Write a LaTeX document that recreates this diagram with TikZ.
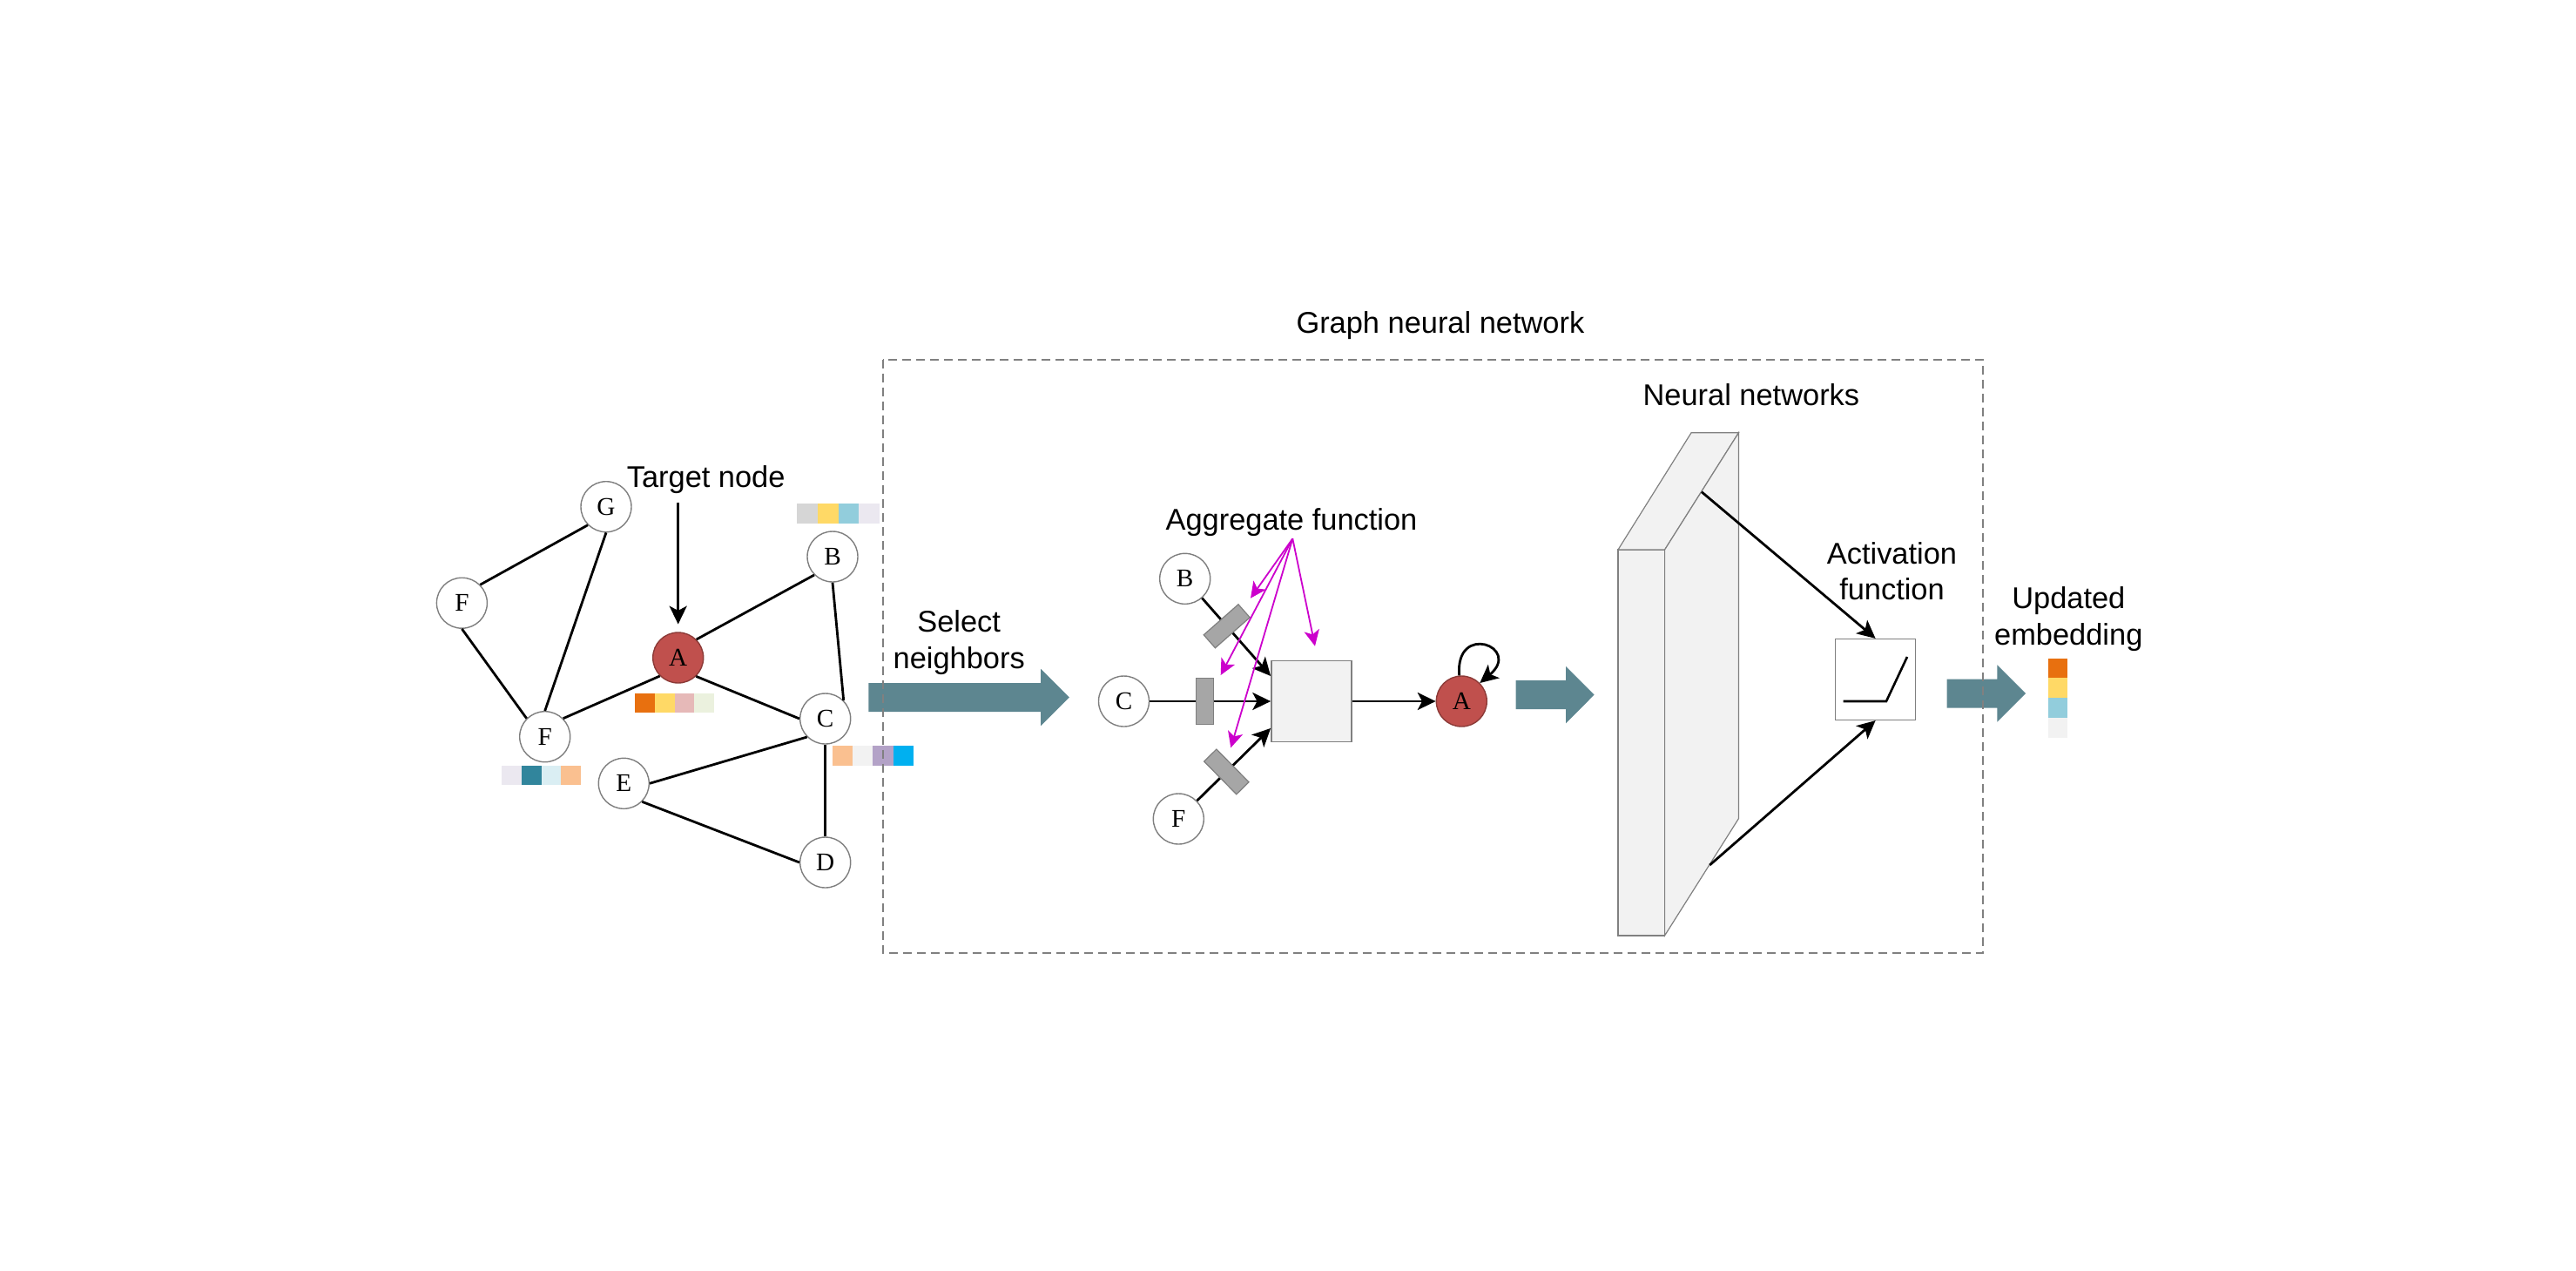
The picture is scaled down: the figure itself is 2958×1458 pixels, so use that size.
\documentclass[tikz,border=0pt]{standalone}
\usepackage{fontspec}
\setmainfont{Liberation Serif}
\setsansfont{Liberation Sans}
\usetikzlibrary{arrows.meta,calc}
\definecolor{nodeGray}{HTML}{7F7F7F}
\definecolor{nodeRed}{HTML}{C0504D}
\definecolor{nodeRedDark}{HTML}{8C3A37}
\definecolor{tealA}{HTML}{5D8690}
\definecolor{magA}{HTML}{CC00CC}
\definecolor{boxFill}{HTML}{F2F2F2}
\definecolor{boxLine}{HTML}{808080}
\definecolor{gateFill}{HTML}{A6A6A6}
\definecolor{gateLine}{HTML}{7F7F7F}
\definecolor{cOrange}{HTML}{E8700F}
\definecolor{cYellow}{HTML}{FFD966}
\definecolor{cPink}{HTML}{E6B9B8}
\definecolor{cGreenW}{HTML}{EBF1DE}
\definecolor{cGray}{HTML}{D6D6D6}
\definecolor{cLBlue}{HTML}{92CDDC}
\definecolor{cLav}{HTML}{EBE8F0}
\definecolor{cTeal}{HTML}{31859C}
\definecolor{cLCyan}{HTML}{DAEEF3}
\definecolor{cPeach}{HTML}{FAC090}
\definecolor{cLGray}{HTML}{F2F2F2}
\definecolor{cPurple}{HTML}{B3A2C7}
\definecolor{cCyan}{HTML}{00B0F0}
\newcommand{\tealarrow}[4]{\fill[tealA] (#1,#4-16.5) -- (#2,#4-16.5) -- (#2,#4-32.7) -- (#3,#4) -- (#2,#4+32.7) -- (#2,#4+16.5) -- (#1,#4+16.5) -- cycle;}
\newcommand{\cellrow}[5]{\foreach \cc [count=\ii from 0] in {#5} {\fill[\cc] (#1+\ii*#3,#2) rectangle ++(#3,#4);}}
\begin{document}
\begin{tikzpicture}[x=0.25pt,y=-0.25pt,
  gnode/.style={circle, draw=nodeGray, line width=0.35pt, fill=white, minimum size=14.5pt, inner sep=0pt, font=\fontsize{7.3}{8}\selectfont},
  rnode/.style={gnode, fill=nodeRed, draw=nodeRedDark},
  edge/.style={line width=0.7pt},
  arr/.style={line width=0.7pt, -{Stealth[length=5.2pt,width=5pt,inset=1.3pt]}},
  marr/.style={line width=0.45pt, draw=magA, -{Stealth[length=4.6pt,width=4.4pt,inset=1.2pt]}},
  lbl/.style={font=\sffamily\fontsize{8.6}{10.4}\selectfont, inner sep=0pt, align=center},
  gate/.style={rectangle, draw=gateLine, fill=gateFill, line width=0.3pt, minimum width=5pt, minimum height=13.25pt, inner sep=0pt, sloped},
  sqbox/.style={rectangle, draw=boxLine, line width=0.35pt, minimum width=23pt, minimum height=23.2pt, inner sep=0pt}
]
\useasboundingbox (0,0) rectangle (2958,1458);

% teal arrows
\tealarrow{997.3}{1195.2}{1227.9}{800.5}
\tealarrow{1740.5}{1798}{1830.6}{797.6}
\tealarrow{2235.7}{2293.3}{2326}{796}

% colour bars
\cellrow{915}{578.3}{23.75}{22.7}{cGray,cYellow,cLBlue,cLav}
\cellrow{729}{796}{22.75}{22.3}{cOrange,cYellow,cPink,cGreenW}
\cellrow{576}{879}{22.8}{21.7}{cLav,cTeal,cLCyan,cPeach}
\cellrow{956}{856}{23.2}{23}{cPeach,cLGray,cPurple,cCyan}
\foreach \cc [count=\ii from 0] in {cOrange,cYellow,cLBlue,cLGray} {\fill[\cc] (2351.7,755.7+\ii*22.75) rectangle ++(22.5,22.75);}

% input graph
\node[gnode] (G) at (696,581.7) {G};
\node[gnode] (F1) at (530.4,692.2) {F};
\node[gnode] (F2) at (625.7,845.7) {F};
\node[rnode] (A) at (778.7,755) {A};
\node[gnode] (B) at (956,639) {B};
\node[gnode] (C) at (947.7,825) {C};
\node[gnode] (E) at (716.3,899.3) {E};
\node[gnode] (D) at (947.7,990) {D};
\draw[edge] (G.225) -- (F1.45);
\draw[edge] (G.270) -- (F2.90);
\draw[edge] (F1.270) -- (F2.135);
\draw[edge] (A.45) -- (B.225);
\draw[edge] (A.225) -- (F2.45);
\draw[edge] (A.-46) -- (C.180);
\draw[edge] (B.270) -- (C.45);
\draw[edge] (C.225) -- (E.0);
\draw[edge] (C.270) -- (D.90);
\draw[edge] (E.-45) -- (D.180);

\node[lbl, anchor=base] (tTarget) at (810.7,559.6) {Target node};
\coordinate (tnArrow) at (778.7,576.7);
\draw[arr, shorten >=2.2pt] (tnArrow) -- (A);

\node[lbl] (tSel) at (1101.2,737.6) {Select\\neighbors};

% aggregation
\node[gnode] (mB) at (1360.7,664.3) {B};
\node[gnode] (mC) at (1290.5,805) {C};
\node[gnode] (mF) at (1353.3,940) {F};
\node[sqbox, fill=boxFill] (agg) at (1505.8,805) {};
\node[rnode] (mA) at (1678.3,805) {A};
\draw[arr] (mC) -- node[gate,pos=0.456] (gC) {} (agg.west);
\draw[arr] (mB) -- node[gate,pos=0.36] (gB) {} ([yshift=7.25pt]agg.west);
\draw[arr] (mF) -- node[gate,pos=0.4] (gF) {} ([yshift=-7.75pt]agg.west);
\draw[arr] (agg) -- (mA);
\draw[arr] (mA.95) .. controls +(95:15.5pt) and +(40:16pt) .. (mA.45);

\node[lbl, anchor=base] (tAgg) at (1483,608.3) {Aggregate function};
\coordinate (aggsrc) at (1484.3,618.3);
\coordinate (m1) at (1436,686.7);
\coordinate (m2) at (1401.7,775);
\coordinate (m3) at (1413.3,858.3);
\coordinate (m4) at (1510,741.7);
\draw[marr] (aggsrc) -- (m1);
\draw[marr] (aggsrc) -- (m2);
\draw[marr] (aggsrc) -- (m3);
\draw[marr] (aggsrc) -- (m4);

% neural network block
\filldraw[fill=boxFill, draw=boxLine, line width=0.3pt] (1858,631) rectangle (1911.6,1073.9);
\filldraw[fill=boxFill, draw=boxLine, line width=0.3pt] (1858,631) -- (1942,496.8) -- (1996.4,496.8) -- (1911.6,631) -- cycle;
\filldraw[fill=boxFill, draw=boxLine, line width=0.3pt] (1911.6,631) -- (1996.4,496.8) -- (1996.4,939.7) -- (1911.6,1073.9) -- cycle;
\node[lbl, anchor=base] (tNN) at (2010.9,465.2) {Neural networks};
\coordinate (nnTop) at (1954,564.7);
\coordinate (nnBot) at (1963.3,993);

\node[sqbox, fill=white] (act) at (2153.6,780) {};
\draw[line width=0.65pt] (2116.7,805) -- (2166,805) -- (2190,754);
\draw[arr] (nnTop) -- (act.north);
\draw[arr] (nnBot) -- (act.south);
\node[lbl] (tAct) at (2172.5,655.5) {Activation\\function};
\node[lbl] (tUpd) at (2375.3,710.6) {Updated\\embedding};

% dashed frame
\node[lbl, anchor=base] (tGNN) at (1653.9,382.6) {Graph neural network};
\draw[boxLine, line width=0.4pt, dash pattern=on 2.5pt off 1.5pt] (1013.8,412.7) rectangle (2276.8,1093.8);
\end{tikzpicture}
\end{document}
